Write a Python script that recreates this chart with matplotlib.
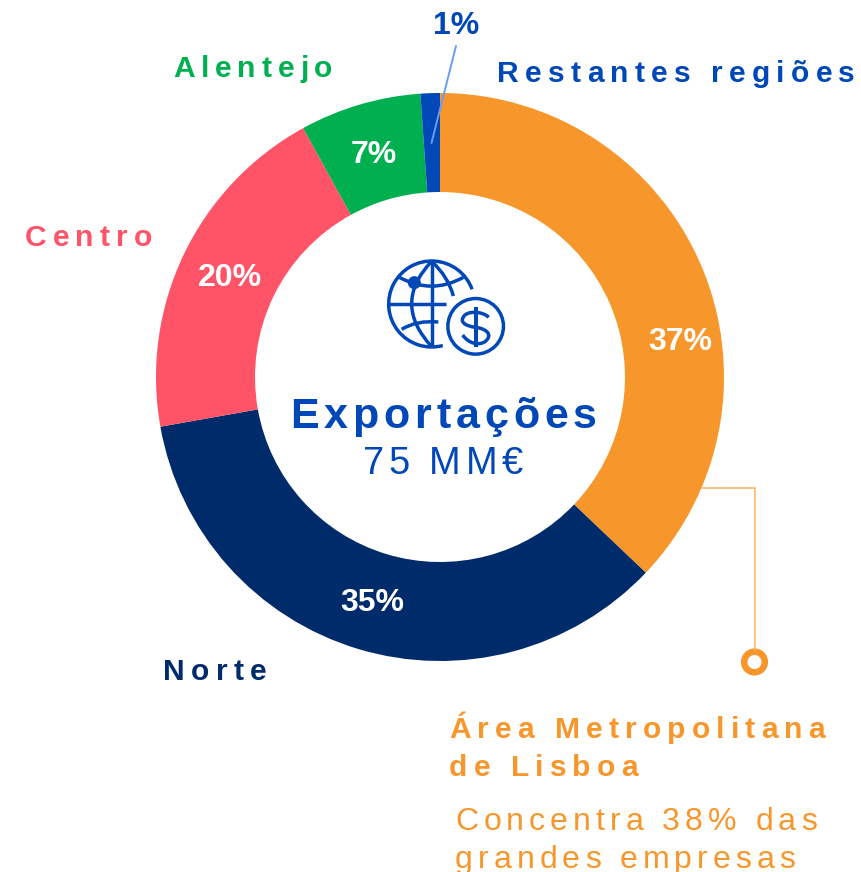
import matplotlib
matplotlib.use("Agg")
import matplotlib.pyplot as plt
from matplotlib.font_manager import FontProperties
from matplotlib.patches import Circle, Arc, PathPatch
from matplotlib.path import Path
from matplotlib.text import Text
from matplotlib.transforms import Bbox

regions = ["Área Metropolitana de Lisboa", "Norte", "Centro", "Alentejo", "Restantes regiões"]
shares_drawn = [37.1, 35.1, 19.8, 6.9, 1.1]
share_labels = ["37%", "35%", "20%", "7%", "1%"]
colors = ["#F7962B", "#002B6B", "#FF5367", "#00B050", "#0047B8"]

FONT = "Liberation Sans"
BLUE = "#0047B8"
ORANGE = "#F7962B"


def fp(px, bold=False):
    return FontProperties(family=FONT, size=px * 0.72, weight="bold" if bold else "normal")


class SpacedText(Text):
    """One text artist drawn with letter-spacing (tracking in pixels)."""

    def __init__(self, *args, tracking=0, **kwargs):
        super().__init__(*args, **kwargs)
        self.tracking = tracking

    def _offsets(self, renderer):
        s = self.get_text()
        prop = self.get_fontproperties()
        width = lambda t: renderer.get_text_width_height_descent(t, prop, False)[0]
        base = width("H")
        return [width(s[:i] + "H") - base + i * self.tracking for i in range(len(s))], width(s) + (len(s) - 1) * self.tracking

    def get_window_extent(self, renderer=None, dpi=None):
        renderer = renderer or self.figure.canvas.get_renderer()
        _, total = self._offsets(renderer)
        x, y = self.get_transform().transform(self.get_position())
        _, h, d = renderer.get_text_width_height_descent(self.get_text(), self.get_fontproperties(), False)
        return Bbox.from_extents(x, y - d, x + total, y + h - d)

    def draw(self, renderer):
        if not self.get_visible():
            return
        offs, _ = self._offsets(renderer)
        x, y = self.get_transform().transform(self.get_position())
        if renderer.flipy():
            y = renderer.get_canvas_width_height()[1] - y
        gc = renderer.new_gc()
        gc.set_foreground(self.get_color())
        gc.set_antialiased(True)
        for ch, dx in zip(self.get_text(), offs):
            if ch != " ":
                renderer.draw_text(gc, x + dx, y, ch, self.get_fontproperties(), 0, ismath=False, mtext=None)
        gc.restore()


fig = plt.figure(figsize=(8.62, 8.72), dpi=100)
ax = fig.add_axes([0, 0, 1, 1])

# y axis runs downward, so a counter-clockwise data sweep is clockwise on screen
ax.pie(shares_drawn, colors=colors, startangle=-90, counterclock=True,
       center=(440, 377), radius=284, normalize=True,
       wedgeprops=dict(width=99, linewidth=0))
ax.set_xlim(0, 862)
ax.set_ylim(872, 0)
ax.set_aspect("equal")
ax.axis("off")


def spaced(x, y, s, color, px, bold, tracking):
    t = SpacedText(x, y, s, color=color, fontproperties=fp(px, bold), va="baseline", ha="left", tracking=tracking)
    ax.add_artist(t)
    t.set_transform(ax.transData)
    return t


# percentage labels
for s, (x, y), c in zip(share_labels,
                        [(680, 342), (372, 603), (230, 278), (374, 155), (456, 26)],
                        ["white", "white", "white", "white", BLUE]):
    ax.text(x, y, s, color=c, ha="center", va="center", fontproperties=fp(32, True))

# 1% leader
ax.plot([456, 431.5], [46, 143], color="#6C9BF5", lw=1.4, solid_capstyle="round")

# region labels
spaced(497, 82, "Restantes regiões", BLUE, 30, True, 6.25)
spaced(173, 77, "Alentejo", colors[3], 30, True, 5.9)
spaced(25, 246, "Centro", colors[2], 30, True, 6.1)
spaced(163, 680, "Norte", colors[1], 30, True, 6.4)
spaced(449, 738, "Área Metropolitana", ORANGE, 30, True, 6.15)
spaced(449, 776, "de Lisboa", ORANGE, 30, True, 6.15)
spaced(455, 830, "Concentra 38% das", ORANGE, 32, False, 5.05)
spaced(455, 868, "grandes empresas", ORANGE, 32, False, 5.05)

# centre text
spaced(290, 428, "Exportações", BLUE, 43, True, 4.9)
spaced(363, 474, "75 MM€", BLUE, 38, False, 4.5)

# callout
ax.plot([702, 755, 755], [488, 488, 650], color="#F9B366", lw=1.1, solid_joinstyle="miter")
ax.add_patch(Circle((754.5, 662), 10.3, fc="white", ec=ORANGE, lw=4.7))


# icon, drawn from a 3x crop grid
def Z(x, y):
    return (370 + x / 3, 240 + y / 3)


def stroke(verts, codes=None, lw=2.5):
    pts = [Z(*v) for v in verts]
    ax.add_patch(PathPatch(Path(pts, codes), fc="none", ec=BLUE, lw=lw, capstyle="butt"))


C3, L, M = Path.CURVE3, Path.LINETO, Path.MOVETO
C4 = Path.CURVE4
cx, cy = Z(185, 192)
# screen y is inverted, so the arc angles are mirrored
ax.add_patch(Arc((cx, cy), 86, 86, theta1=75, theta2=340, ec=BLUE, lw=2.5))
stroke([(185, 64), (185, 322)], [M, L])
stroke([(57, 192), (228, 192)], [M, L])
stroke([(185, 64), (65, 190), (185, 320)], [M, C3, C3], )
stroke([(185, 64), (235, 110), (250, 168)], [M, C3, C3])
stroke([(88, 112), (185, 165), (280, 112)], [M, C3, C3])
stroke([(95, 268), (140, 240), (205, 246)], [M, C3, C3])
ax.add_patch(Circle(Z(133, 128), 6.5, fc=BLUE, ec="none"))
ax.add_patch(Circle(Z(317, 259), 27.8, fc="white", ec=BLUE, lw=2.5))
stroke([(317, 200), (317, 321)], [M, L], lw=2.9)
stroke([(356, 232), (340, 215), (300, 212), (285, 225), (265, 245), (285, 258), (317, 262),
        (350, 266), (370, 285), (345, 305), (325, 318), (295, 310), (278, 285)],
       [M, C4, C4, C4, C4, C4, C4, C4, C4, C4, C4, C4, C4], lw=2.5)

fig.savefig("out.png", dpi=100)
